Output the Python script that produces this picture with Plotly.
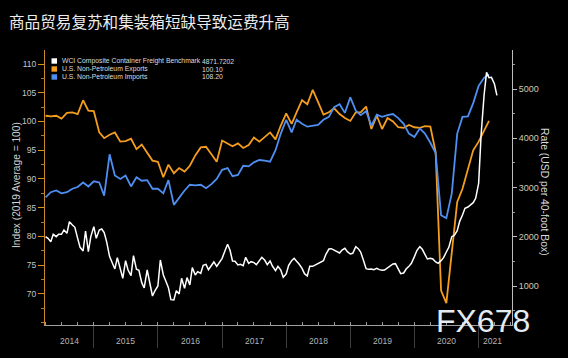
import plotly.graph_objects as go
import pandas as pd

# ---------------- data ----------------
months = pd.date_range("2014-04-01", periods=84, freq="MS")

exports = [
    101.0, 100.9, 101.0, 100.5, 101.5, 101.6, 101.3, 103.7, 101.9, 101.8,
    98.1, 97.1, 97.7, 98.1, 96.5, 96.6, 97.0, 95.2, 96.0, 94.5,
    93.2, 93.0, 90.3, 92.5, 91.0, 91.9, 91.3, 92.3, 94.1, 95.5,
    95.6, 94.3, 93.0, 96.7, 96.1, 95.7, 96.2, 95.4, 95.9, 97.2,
    96.5, 97.4, 98.1, 96.9, 99.3, 101.4, 99.6, 101.6, 103.7, 103.0,
    105.5, 103.4, 101.2, 101.6, 102.3, 101.3, 100.6, 100.1, 101.6, 101.6,
    102.6, 98.7, 101.0, 98.7, 100.6, 100.0, 99.0, 98.9, 99.4, 99.0,
    98.9, 99.2, 99.1, 94.7, 70.6, 68.4, 76.7, 86.0, 88.3, 91.5,
    95.0, 96.5, 98.4, 100.1,
]

imports = [
    86.8, 87.7, 88.0, 87.5, 87.7, 88.3, 88.6, 89.4, 88.7, 89.6,
    89.4, 87.1, 94.3, 90.6, 90.0, 90.6, 88.7, 90.3, 89.7, 89.8,
    88.3, 88.3, 87.5, 89.8, 85.5, 86.8, 88.0, 89.0, 88.9, 89.0,
    88.4, 89.1, 90.0, 91.6, 91.9, 90.5, 90.7, 92.3, 92.2, 92.9,
    93.3, 93.2, 93.0, 95.0, 97.9, 100.3, 98.1, 100.3, 99.6, 99.1,
    99.3, 99.4, 100.3, 100.8, 102.5, 103.0, 101.5, 104.2, 101.9, 101.1,
    101.8, 99.3, 101.2, 100.8, 101.1, 101.3, 100.6, 99.6, 97.9, 97.3,
    98.8, 97.9, 96.3, 94.5, 83.7, 83.2, 87.5, 97.9, 100.8, 100.9,
    103.2, 106.2, 107.6, 108.2,
]

wci_dates = pd.date_range("2014-04-01", periods=170, freq="SMS")
wci = [
    2002, 1968, 1900, 2049, 2002, 2049, 2049, 2137, 2070, 2307,
    2239, 2192, 1968, 1785, 1711, 2117, 1697, 2002, 2205, 1968,
    2137, 2158, 2083, 1900, 1596, 1461, 1346, 1576, 1325, 1156,
    1515, 1325, 1210, 1616, 1339, 1318, 1068, 960, 1325, 1088,
    797, 899, 1000, 1528, 1224, 1102, 967, 723, 716, 906,
    838, 1156, 953, 1170, 1021, 1373, 1224, 1291, 1258, 1420,
    1440, 1332, 1427, 1488, 1400, 1481, 1562, 1697, 1846, 1725,
    1508, 1501, 1427, 1440, 1413, 1582, 1461, 1494, 1474, 1434,
    1522, 1582, 1522, 1434, 1508, 1400, 1312, 1400,
    1325, 1176, 1244, 1420, 1514, 1562, 1501, 1447, 1359, 1250,
    1203, 1399, 1399, 1426, 1453, 1481, 1514, 1643, 1751, 1758,
    1724, 1697, 1670, 1731, 1765, 1697, 1650, 1663, 1799, 1758,
    1690, 1541, 1352, 1338, 1345, 1332, 1359, 1332, 1318, 1325,
    1366, 1393, 1447,
    1454, 1359, 1251, 1264, 1345, 1399, 1460, 1596, 1718, 1799,
    1745, 1643, 1548, 1562, 1548, 1487, 1460, 1515, 1575, 1690,
    1785, 2002, 2029, 2124, 2313, 2442, 2577, 2604, 2652, 2692,
    2780, 3085, 4066, 4878, 5338, 5230, 5237, 5102, 4872,
]

year_labels = ["2014", "2015", "2016", "2017", "2018", "2019", "2020", "2021"]
year_label_dates = ["2014-08-15", "2015-07-02", "2016-07-02", "2017-07-02",
                    "2018-07-02", "2019-07-02", "2020-07-02", "2021-03-22"]
year_starts = ["2015-01-01", "2016-01-01", "2017-01-01", "2018-01-01",
               "2019-01-01", "2020-01-01", "2021-01-01"]

left_ticks = [70, 75, 80, 85, 90, 95, 100, 105, 110]
right_ticks = [1000, 2000, 3000, 4000, 5000]

legend_names = ["WCI Composite Container Freight Benchmark",
                "U.S. Non-Petroleum Exports",
                "U.S. Non-Petroleum Imports"]
legend_values = ["4871.7202", "100.10", "108.20"]

title_text = "商品贸易复苏和集装箱短缺导致运费升高"
left_title = "Index (2019 Average = 100)"
right_title = "Rate (USD per 40-foot Box)"
watermark = "FX678"

# ---------------- style ----------------
WHITE = "#ffffff"
ORANGE = "#f49d1e"
BLUE = "#4f8ff2"
BG = "#000000"
legend_colors = [WHITE, ORANGE, BLUE]

W, H = 568, 358
L, R, T, B = 45, 56, 50, 33
pw, ph = W - L - R, H - T - B


def px_x(px):
    return (px - L) / pw


def px_y(py):
    return (H - B - py) / ph


fig = go.Figure()
fig.add_trace(go.Scatter(x=months, y=exports, mode="lines",
                         line=dict(color=ORANGE, width=1.8), yaxis="y",
                         showlegend=False))
fig.add_trace(go.Scatter(x=months, y=imports, mode="lines",
                         line=dict(color=BLUE, width=1.8), yaxis="y",
                         showlegend=False))
fig.add_trace(go.Scatter(x=wci_dates, y=wci, mode="lines",
                         line=dict(color=WHITE, width=1.5), yaxis="y2",
                         showlegend=False))

fig.update_layout(
    width=W, height=H,
    margin=dict(l=L, r=R, t=T, b=B, pad=0),
    paper_bgcolor=BG, plot_bgcolor=BG,
    font=dict(family="Liberation Sans, Arial, sans-serif", color="#c8c8c8"),
    title=dict(text=title_text, x=9 / W, xanchor="left", y=1 - 23 / H,
               yanchor="middle", yref="container", xref="container",
               font=dict(family="Noto Sans CJK SC", size=15.6, color="#ececec")),
    xaxis=dict(
        type="date", range=["2014-03-29", "2021-07-10"],
        showgrid=False, zeroline=False,
        showline=True, linecolor="#a0a0a0", linewidth=1,
        tickmode="array", tickvals=year_starts, showticklabels=False,
        ticks="outside", ticklen=22, tickcolor="#3c3c3c", tickwidth=1,
        minor=dict(ticks="inside", ticklen=3, tickcolor="#9a9a9a",
                   dtick="M3", tick0="2014-01-01", showgrid=False),
    ),
    yaxis=dict(
        range=[64.6, 112.44], showgrid=False, zeroline=False,
        showline=True, linecolor="#c98a2a", linewidth=1,
        tickmode="array", tickvals=left_ticks,
        ticks="outside", ticklen=6, tickcolor="#d8901f", tickwidth=1,
        tickfont=dict(size=8.5, color="#c4c4c4"),
        minor=dict(ticks="outside", ticklen=3, tickcolor="#b07a20",
                   dtick=2.5, tick0=0, showgrid=False),
    ),
    yaxis2=dict(
        range=[208, 5792], overlaying="y", side="right",
        showgrid=False, zeroline=False,
        showline=True, linecolor="#bdbdbd", linewidth=1,
        tickmode="array", tickvals=right_ticks,
        ticks="outside", ticklen=4, tickcolor="#bdbdbd", tickwidth=1,
        tickfont=dict(size=9, color="#cfc9b4"),
        minor=dict(ticks="outside", ticklen=2, tickcolor="#9a9a9a",
                   dtick=500, tick0=0, showgrid=False),
    ),
)

annotations = []
# year labels
for lab, d in zip(year_labels, year_label_dates):
    annotations.append(dict(x=d, xref="x", y=px_y(341), yref="paper",
                            text=lab, showarrow=False, xanchor="center",
                            yanchor="middle",
                            font=dict(size=8.5, color="#b4b4b4")))
# axis titles
annotations.append(dict(x=px_x(16), y=px_y(185), xref="paper", yref="paper",
                        text=left_title, textangle=-90, showarrow=False,
                        xanchor="center", yanchor="middle",
                        font=dict(size=10.2, color="#cfcfcf")))
annotations.append(dict(x=px_x(545), y=px_y(192), xref="paper", yref="paper",
                        text=right_title, textangle=90, showarrow=False,
                        xanchor="center", yanchor="middle",
                        font=dict(size=10.4, color="#d8d8d8")))
# legend
shapes = []
row_y = [61, 69, 77]
for name, val, col, ry in zip(legend_names, legend_values, legend_colors, row_y):
    shapes.append(dict(type="rect", xref="paper", yref="paper",
                       x0=px_x(51.5), x1=px_x(57), y0=px_y(ry + 2.7),
                       y1=px_y(ry - 2.7), fillcolor=col, line=dict(width=0)))
    annotations.append(dict(x=px_x(60), y=px_y(ry), xref="paper", yref="paper",
                            text=name, showarrow=False, xanchor="left",
                            yanchor="middle",
                            font=dict(size=6.8, color="#dedede")))
    annotations.append(dict(x=px_x(200), y=px_y(ry), xref="paper", yref="paper",
                            text=val, showarrow=False, xanchor="left",
                            yanchor="middle",
                            font=dict(size=6.8, color="#dedede")))
# watermark
annotations.append(dict(x=px_x(434), y=px_y(321), xref="paper", yref="paper",
                        text=watermark, showarrow=False, xanchor="left",
                        yanchor="middle",
                        font=dict(family="Liberation Sans", size=32,
                                  color="#e4ebf3")))

fig.update_layout(annotations=annotations, shapes=shapes)
fig.write_html(
    "out.html",
    config={"displayModeBar": False},
    post_script="document.body.style.margin='0';document.body.style.background='#000';",
)
